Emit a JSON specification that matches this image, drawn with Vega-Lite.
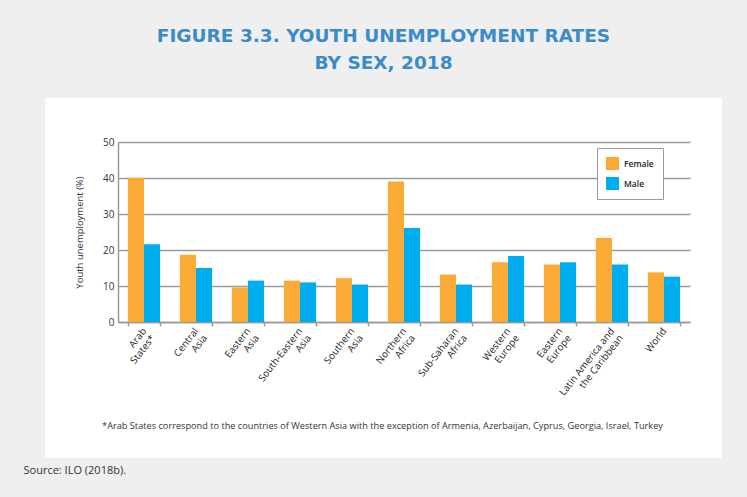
{
  "$schema": "https://vega.github.io/schema/vega-lite/v6.json",
  "autosize": {"type": "none"},
  "width": 677,
  "height": 360,
  "padding": {"left": 45, "top": 98, "right": 25, "bottom": 39},
  "background": "#efefef",
  "title": {
    "text": ["FIGURE 3.3. YOUTH UNEMPLOYMENT RATES", "BY SEX, 2018"],
    "anchor": "middle",
    "frame": "group",
    "font": "DejaVu Sans",
    "fontSize": 18.5,
    "fontWeight": "bold",
    "color": "#3b8bc9",
    "lineHeight": 27,
    "offset": 26
  },
  "config": {
    "view": {"fill": "white", "stroke": null},
    "font": "Open Sans"
  },
  "data": {
    "values": [
      {"region": "Arab States*", "sex": "Female", "rate": 40.0},
      {"region": "Arab States*", "sex": "Male", "rate": 21.6},
      {"region": "Central Asia", "sex": "Female", "rate": 18.7},
      {"region": "Central Asia", "sex": "Male", "rate": 15.0},
      {"region": "Eastern Asia", "sex": "Female", "rate": 9.6},
      {"region": "Eastern Asia", "sex": "Male", "rate": 11.5},
      {"region": "South-Eastern Asia", "sex": "Female", "rate": 11.5},
      {"region": "South-Eastern Asia", "sex": "Male", "rate": 11.0},
      {"region": "Southern Asia", "sex": "Female", "rate": 12.2},
      {"region": "Southern Asia", "sex": "Male", "rate": 10.4},
      {"region": "Northern Africa", "sex": "Female", "rate": 39.0},
      {"region": "Northern Africa", "sex": "Male", "rate": 26.1},
      {"region": "Sub-Saharan Africa", "sex": "Female", "rate": 13.2},
      {"region": "Sub-Saharan Africa", "sex": "Male", "rate": 10.4},
      {"region": "Western Europe", "sex": "Female", "rate": 16.6},
      {"region": "Western Europe", "sex": "Male", "rate": 18.3},
      {"region": "Eastern Europe", "sex": "Female", "rate": 16.0},
      {"region": "Eastern Europe", "sex": "Male", "rate": 16.6},
      {"region": "Latin America and the Caribbean", "sex": "Female", "rate": 23.3},
      {"region": "Latin America and the Caribbean", "sex": "Male", "rate": 16.0},
      {"region": "World", "sex": "Female", "rate": 13.8},
      {"region": "World", "sex": "Male", "rate": 12.6}
    ]
  },
  "layer": [
    {
      "mark": {"type": "bar"},
      "encoding": {
        "x": {
          "field": "region",
          "type": "nominal",
          "sort": null,
          "scale": {"range": [73, 645], "paddingInner": 0.38, "paddingOuter": 0.19},
          "axis": {
            "orient": "bottom",
            "offset": -136,
            "title": "*Arab States correspond to the countries of Western Asia with the exception of Armenia, Azerbaijan, Cyprus, Georgia, Israel, Turkey",
            "titleX": 337,
            "titleY": 103,
            "titleAlign": "center",
            "titleBaseline": "middle",
            "titleFontSize": 9.2,
            "titleFontWeight": "normal",
            "titleColor": "#333333",
            "labelExpr": "!isValid(datum.value) ? '' : datum.value == 'Latin America and the Caribbean' ? ['Latin America and', 'the Caribbean'] : split(datum.value, ' ')",
            "labelAngle": -52,
            "labelAlign": "right",
            "labelBaseline": "middle",
            "labelFontSize": 9.8,
            "labelColor": "#222222",
            "labelLineHeight": 11,
            "labelPadding": 3,
            "tickBand": "extent",
            "tickSize": 4,
            "tickColor": "#9a9a9a",
            "tickWidth": 1.5,
            "domainColor": "#9a9a9a",
            "domainWidth": 1.5,
            "grid": false
          }
        },
        "xOffset": {
          "field": "sex",
          "type": "nominal",
          "sort": ["Female", "Male"],
          "scale": {"paddingInner": 0, "paddingOuter": 0}
        },
        "y": {
          "field": "rate",
          "type": "quantitative",
          "scale": {"domain": [0, 50], "range": [224, 44], "nice": false, "zero": true},
          "axis": {
            "orient": "left",
            "offset": -73,
            "values": [0, 10, 20, 30, 40, 50],
            "grid": true,
            "gridColor": "#9a9a9a",
            "gridWidth": 1.5,
            "domainColor": "#9a9a9a",
            "domainWidth": 1.5,
            "ticks": false,
            "labelPadding": 4,
            "labelFontSize": 10,
            "labelColor": "#333333",
            "title": "Youth unemployment (%)",
            "titleFontSize": 9.5,
            "titleFontWeight": "normal",
            "titleColor": "#333333",
            "titlePadding": 18
          }
        },
        "color": {
          "field": "sex",
          "type": "nominal",
          "scale": {"domain": ["Female", "Male"], "range": ["#f9ab36", "#00aeef"]},
          "legend": {
            "orient": "none",
            "legendX": 552,
            "legendY": 50,
            "title": null,
            "symbolType": "square",
            "symbolSize": 169,
            "symbolStrokeWidth": 0,
            "symbolOpacity": 1,
            "labelFontSize": 8.5,
            "labelFontWeight": 600,
            "labelColor": "#222222",
            "labelOffset": 5,
            "labelExpr": "datum.label + '\u00a0\u00a0\u00a0\u00a0\u00a0\u00a0\u00a0\u00a0\u00a0\u00a0\u00a0\u00a0\u00a0\u00a0'",
            "strokeColor": "#9a9a9a",
            "fillColor": "white",
            "padding": 9,
            "rowPadding": 7
          }
        }
      }
    },
    {
      "mark": {"type": "rule", "strokeOpacity": 0},
      "encoding": {
        "y": {
          "datum": 0,
          "type": "quantitative",
          "scale": {"domain": [0, 50], "range": [224, 44], "nice": false, "zero": true},
          "axis": {
            "orient": "right",
            "domain": false,
            "ticks": false,
            "labels": false,
            "grid": false,
            "title": "Source: ILO (2018b).",
            "titleAngle": 0,
            "titleX": -699,
            "titleY": 372,
            "titleAlign": "left",
            "titleBaseline": "middle",
            "titleFontSize": 11,
            "titleFontWeight": "normal",
            "titleColor": "#333333"
          }
        }
      }
    }
  ],
  "resolve": {"axis": {"y": "independent"}}
}
